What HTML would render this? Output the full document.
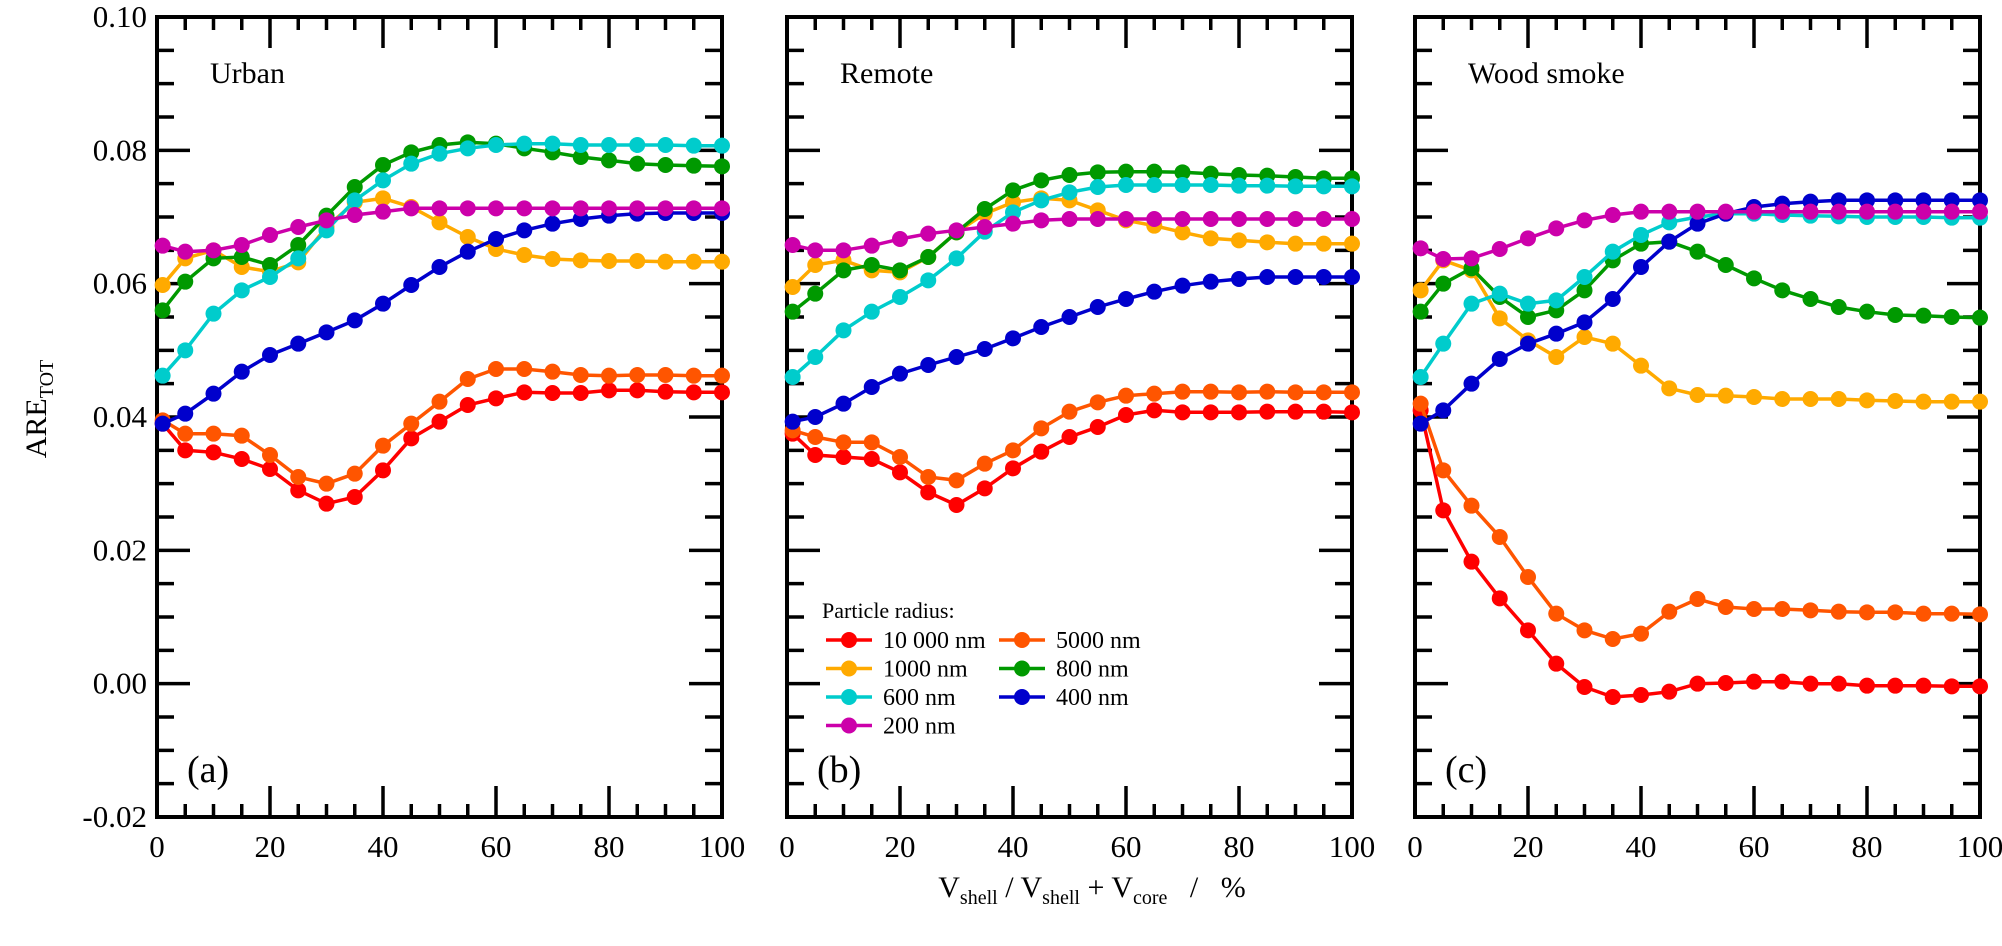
<!DOCTYPE html>
<html><head><meta charset="utf-8"><style>
html,body{margin:0;padding:0;background:#fff;}
svg, svg text{font-family:"Liberation Serif","Times New Roman",serif;}
svg{display:block;}
</style></head><body>
<svg id="chart" width="2002" height="946" viewBox="0 0 2002 946" xmlns="http://www.w3.org/2000/svg" font-family="Liberation Serif, serif"></svg>
<script>
const xValues=[1,5,10,15,20,25,30,35,40,45,50,55,60,65,70,75,80,85,90,95,100];
const xTicks=[0,20,40,60,80,100];
const yTicks=[-0.02,0.00,0.02,0.04,0.06,0.08,0.10];
const yTickLabels=["-0.02","0.00","0.02","0.04","0.06","0.08","0.10"];
const seriesNames=["10 000 nm","5000 nm","1000 nm","800 nm","600 nm","400 nm","200 nm"];
const seriesColors=["#ff0000","#ff5500","#ffaa00","#009900","#00cccc","#0000cc","#cc00aa"];
const panelTitles=["Urban","Remote","Wood smoke"];
const panelLetters=["(a)","(b)","(c)"];
// Urban
const aRed=[0.039,0.035,0.0347,0.0337,0.0322,0.029,0.027,0.028,0.032,0.0368,0.0393,0.0418,0.0428,0.0437,0.0436,0.0436,0.044,0.044,0.0438,0.0437,0.0437];
const aOrange=[0.0395,0.0375,0.0375,0.0372,0.0343,0.031,0.030,0.0315,0.0357,0.039,0.0423,0.0457,0.0472,0.0472,0.0468,0.0463,0.0462,0.0463,0.0463,0.0462,0.0462];
const aYellow=[0.0598,0.0638,0.065,0.0625,0.0618,0.0632,0.0685,0.0722,0.0728,0.0715,0.0692,0.067,0.0652,0.0643,0.0637,0.0635,0.0634,0.0634,0.0633,0.0633,0.0633];
const aGreen=[0.056,0.0603,0.0638,0.064,0.0628,0.0658,0.0702,0.0745,0.0778,0.0797,0.0808,0.0812,0.081,0.0803,0.0797,0.079,0.0785,0.078,0.0778,0.0777,0.0776];
const aCyan=[0.0462,0.050,0.0555,0.059,0.061,0.0638,0.068,0.0725,0.0755,0.078,0.0795,0.0803,0.0808,0.081,0.081,0.0808,0.0808,0.0808,0.0808,0.0807,0.0807];
const aBlue=[0.039,0.0405,0.0435,0.0468,0.0493,0.051,0.0527,0.0545,0.057,0.0598,0.0625,0.0648,0.0667,0.068,0.069,0.0697,0.0702,0.0705,0.0706,0.0706,0.0706];
const aMagenta=[0.0657,0.0648,0.065,0.0658,0.0673,0.0685,0.0695,0.0703,0.0708,0.0713,0.0713,0.0713,0.0713,0.0713,0.0713,0.0713,0.0713,0.0713,0.0713,0.0713,0.0713];
// Remote
const bRed=[0.0375,0.0343,0.034,0.0337,0.0317,0.0287,0.0268,0.0293,0.0323,0.0348,0.037,0.0385,0.0403,0.041,0.0407,0.0407,0.0407,0.0408,0.0408,0.0408,0.0407];
const bOrange=[0.038,0.037,0.0362,0.0362,0.034,0.031,0.0305,0.033,0.035,0.0383,0.0408,0.0422,0.0432,0.0435,0.0438,0.0438,0.0437,0.0438,0.0437,0.0437,0.0437];
const bYellow=[0.0595,0.0628,0.0635,0.062,0.0617,0.064,0.0677,0.0705,0.0722,0.0728,0.0725,0.071,0.0695,0.0687,0.0677,0.0668,0.0665,0.0662,0.066,0.066,0.066];
const bGreen=[0.0558,0.0585,0.062,0.0628,0.062,0.064,0.0677,0.0712,0.074,0.0755,0.0763,0.0767,0.0768,0.0768,0.0767,0.0765,0.0763,0.0762,0.076,0.0758,0.0758];
const bCyan=[0.046,0.049,0.053,0.0558,0.058,0.0605,0.0638,0.0678,0.0707,0.0725,0.0737,0.0745,0.0748,0.0748,0.0748,0.0748,0.0747,0.0747,0.0746,0.0746,0.0746];
const bBlue=[0.0393,0.040,0.042,0.0445,0.0465,0.0478,0.049,0.0502,0.0518,0.0535,0.055,0.0565,0.0577,0.0588,0.0597,0.0603,0.0607,0.061,0.061,0.061,0.061];
const bMagenta=[0.0658,0.065,0.065,0.0657,0.0667,0.0675,0.068,0.0685,0.069,0.0695,0.0697,0.0697,0.0697,0.0697,0.0697,0.0697,0.0697,0.0697,0.0697,0.0697,0.0697];
// Wood smoke
const cRed=[0.041,0.026,0.0183,0.0128,0.008,0.003,-0.0005,-0.002,-0.0017,-0.0012,0.0,0.0001,0.0003,0.0003,0.0,0.0,-0.0003,-0.0003,-0.0003,-0.0004,-0.0004];
const cOrange=[0.042,0.032,0.0267,0.022,0.016,0.0105,0.008,0.0067,0.0075,0.0108,0.0127,0.0115,0.0112,0.0112,0.011,0.0108,0.0107,0.0107,0.0105,0.0105,0.0104];
const cYellow=[0.059,0.0635,0.062,0.0548,0.0515,0.049,0.052,0.051,0.0477,0.0443,0.0433,0.0432,0.043,0.0427,0.0427,0.0427,0.0425,0.0424,0.0423,0.0423,0.0423];
const cGreen=[0.0558,0.060,0.0623,0.058,0.055,0.056,0.059,0.0635,0.066,0.0663,0.0648,0.0628,0.0608,0.059,0.0577,0.0565,0.0558,0.0553,0.0552,0.055,0.0549];
const cCyan=[0.046,0.051,0.057,0.0585,0.057,0.0575,0.061,0.0648,0.0673,0.0692,0.070,0.0705,0.0705,0.0703,0.0702,0.0701,0.07,0.07,0.07,0.0699,0.0699];
const cBlue=[0.039,0.041,0.045,0.0487,0.051,0.0525,0.0542,0.0577,0.0625,0.0663,0.069,0.0705,0.0715,0.072,0.0723,0.0725,0.0725,0.0725,0.0725,0.0725,0.0725];
const cMagenta=[0.0653,0.0637,0.0638,0.0652,0.0668,0.0683,0.0695,0.0703,0.0708,0.0708,0.0708,0.0708,0.0708,0.0708,0.0708,0.0708,0.0708,0.0708,0.0708,0.0708,0.0708];

const panelsData=[[aRed,aOrange,aYellow,aGreen,aCyan,aBlue,aMagenta],[bRed,bOrange,bYellow,bGreen,bCyan,bBlue,bMagenta],[cRed,cOrange,cYellow,cGreen,cCyan,cBlue,cMagenta]];

const NS="http://www.w3.org/2000/svg";
const svg=document.getElementById('chart');
const FF='"Liberation Serif", serif';
function mk(tag,attrs,parent){const e=document.createElementNS(NS,tag);for(const k in attrs)e.setAttribute(k,attrs[k]);if(tag==='text')e.setAttribute('font-family',FF);(parent||svg).appendChild(e);return e;}
const panelLeft=[157,787,1415], PW=565, TOP=17, BOT=817;
const yMin=-0.02,yMax=0.10;
function yS(v){return TOP+(yMax-v)/(yMax-yMin)*(BOT-TOP);}
function xS(p,v){return panelLeft[p]+v/100*PW;}

for(let p=0;p<3;p++){
  const g=mk('g',{});
  
  
  const L=panelLeft[p],R=L+PW;
  for(let v=0;v<=100;v+=5){
    const len=(v%20===0)?31:13,x=xS(p,v);
    const t1=mk('line',{x1:x,x2:x,y1:TOP,y2:TOP+len,stroke:'#000','stroke-width':3.5},g);
    
    const t2=mk('line',{x1:x,x2:x,y1:BOT,y2:BOT-len,stroke:'#000','stroke-width':3.5},g);
    
  }
  for(let i=0;i<=24;i++){
    const v=yMin+i*0.005,len=(i%4===0)?33:17,y=yS(v);
    const t1=mk('line',{x1:L,x2:L+len,y1:y,y2:y,stroke:'#000','stroke-width':3.5},g);
    
    const t2=mk('line',{x1:R,x2:R-len,y1:y,y2:y,stroke:'#000','stroke-width':3.5},g);
    
  }
  const fr=mk('rect',{x:L,y:TOP,width:PW,height:BOT-TOP,fill:'none',stroke:'#000','stroke-width':4},g);
  
  xTicks.forEach(v=>{
    const t=mk('text',{x:xS(p,v),y:BOT+40,'text-anchor':'middle','font-size':31},g);
    
    t.textContent=v;
  });
  if(p===0){
    yTicks.forEach((v,i)=>{
      const t=mk('text',{x:L-10,y:yS(v)+10,'text-anchor':'end','font-size':31},g);
      
      t.textContent=yTickLabels[i];
    });
  }
  const tt=mk('text',{x:L+53,y:83,'font-size':30},g);
  
  tt.textContent=panelTitles[p];
  const lt=mk('text',{x:L+30,y:782,'font-size':38},g);
  
  lt.textContent=panelLetters[p];
  const sd=panelsData[p];
  sd.forEach((arr,si)=>{
    const sg=mk('g',{},g);
    
    
    const pts=arr.map((v,i)=>xS(p,xValues[i]).toFixed(1)+','+yS(v).toFixed(1)).join(' ');
    const pl=mk('polyline',{points:pts,fill:'none',stroke:seriesColors[si],'stroke-width':3.5},sg);
    
    arr.forEach((v,i)=>{
      const c=mk('circle',{cx:xS(p,xValues[i]),cy:yS(v),r:8,fill:seriesColors[si]},sg);
      
    });
  });
}
const lg=mk('g',{});


const lh=mk('text',{x:822,y:618,'font-size':22},lg);

lh.textContent='Particle radius:';
const legendPos=[[0,0],[1,0],[0,1],[1,1],[0,2],[1,2],[0,3]];
const legendOrder=[0,1,2,3,4,5,6];
legendOrder.forEach((si,k)=>{
  const col=legendPos[k][0],row=legendPos[k][1];
  const x0=col?999:826, y=640+row*28.5;
  const e=mk('g',{},lg);
  
  mk('line',{x1:x0,x2:x0+46,y1:y,y2:y,stroke:seriesColors[si],'stroke-width':3.5},e);
  mk('circle',{cx:x0+23,cy:y,r:8,fill:seriesColors[si]},e);
  const t=mk('text',{x:x0+57,y:y+8,'font-size':24},e);
  t.textContent=seriesNames[si];
});
const yt=mk('text',{x:0,y:0,'font-size':30,transform:'translate(46,409) rotate(-90)','text-anchor':'middle'});

yt.innerHTML='ARE<tspan font-size="20" dy="7">TOT</tspan>';
const xt=mk('text',{x:1092,y:897,'font-size':30,'text-anchor':'middle'});

xt.innerHTML='V<tspan font-size="20" dy="7">shell</tspan><tspan dy="-7"> / V</tspan><tspan font-size="20" dy="7">shell</tspan><tspan dy="-7"> + V</tspan><tspan font-size="20" dy="7">core</tspan><tspan dy="-7" xml:space="preserve">   /   %</tspan>';
</script>
</body></html>
